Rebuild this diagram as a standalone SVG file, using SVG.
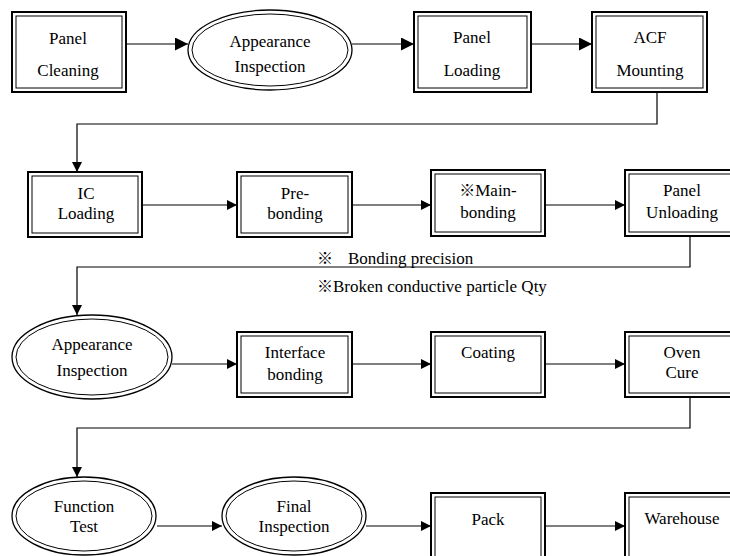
<svg xmlns="http://www.w3.org/2000/svg" width="730" height="556" viewBox="0 0 730 556">
<style>
text{font-family:"Liberation Serif","Times New Roman","DejaVu Serif",serif;font-size:17px;fill:#000;text-anchor:middle}
.k{font-family:"Noto Sans CJK JP",sans-serif;font-size:16px}
.o{fill:#fff;stroke:#000;stroke-width:2}
.i{fill:none;stroke:#000;stroke-width:1}
.eo{fill:#fff;stroke:#000;stroke-width:1.3}
.c{fill:none;stroke:#000;stroke-width:1.2}
.note{text-anchor:start}
</style>
<defs>
<marker id="a" viewBox="0 0 10 10" refX="10" refY="5" markerWidth="10" markerHeight="10" markerUnits="userSpaceOnUse" orient="auto"><path d="M0,0 L10,5 L0,10 z" fill="#000"/></marker>
<marker id="b" viewBox="0 0 10 10" refX="10" refY="5" markerWidth="13" markerHeight="13" markerUnits="userSpaceOnUse" orient="auto"><path d="M0,0 L10,5 L0,10 z" fill="#000"/></marker>
</defs>
<rect width="730" height="556" fill="#fff"/>
<g id="connectors">
<path class="c" d="M126,44 H188" marker-end="url(#b)"/>
<path class="c" d="M352,44 H414" marker-end="url(#b)"/>
<path class="c" d="M531,44 H592" marker-end="url(#b)"/>
<path class="c" d="M657,92 V124 H77 V172" marker-end="url(#a)"/>
<path class="c" d="M142,205 H237" marker-end="url(#a)"/>
<path class="c" d="M352,205 H431" marker-end="url(#a)"/>
<path class="c" d="M545,205 H625" marker-end="url(#a)"/>
<path class="c" d="M690,236 V267 H77 V315" marker-end="url(#a)"/>
<path class="c" d="M172,364 H237" marker-end="url(#a)"/>
<path class="c" d="M352,364 H431" marker-end="url(#a)"/>
<path class="c" d="M545,364 H625" marker-end="url(#a)"/>
<path class="c" d="M690,397 V428 H77 V477" marker-end="url(#a)"/>
<path class="c" d="M157,526 H222" marker-end="url(#a)"/>
<path class="c" d="M366,526 H431" marker-end="url(#a)"/>
<path class="c" d="M545,526 H625" marker-end="url(#a)"/>
</g>
<g id="panel-cleaning"><rect class="o" x="12" y="12" width="114" height="80"/><rect class="i" x="16" y="16" width="106" height="72"/><text x="68" y="44">Panel</text><text x="68" y="76">Cleaning</text></g>
<g id="appearance-inspection-1"><ellipse class="eo" cx="270" cy="50" rx="82" ry="40"/><ellipse class="i" cx="270" cy="50" rx="78" ry="36"/><text x="270" y="47">Appearance</text><text x="270" y="72">Inspection</text></g>
<g id="panel-loading"><rect class="o" x="414" y="12" width="117" height="80"/><rect class="i" x="418" y="16" width="109" height="72"/><text x="472" y="43">Panel</text><text x="472" y="76">Loading</text></g>
<g id="acf-mounting"><rect class="o" x="592" y="12" width="115" height="80"/><rect class="i" x="596" y="16" width="107" height="72"/><text x="650" y="43">ACF</text><text x="650" y="76">Mounting</text></g>
<g id="ic-loading"><rect class="o" x="28" y="172" width="114" height="65"/><rect class="i" x="32" y="176" width="106" height="57"/><text x="86" y="199">IC</text><text x="86" y="219">Loading</text></g>
<g id="pre-bonding"><rect class="o" x="237" y="172" width="115" height="65"/><rect class="i" x="241" y="176" width="107" height="57"/><text x="295" y="199">Pre-</text><text x="295" y="219">bonding</text></g>
<g id="main-bonding"><rect class="o" x="431" y="170" width="114" height="66"/><rect class="i" x="435" y="174" width="106" height="58"/><text x="488" y="196"><tspan class="k">※</tspan>Main-</text><text x="488" y="218">bonding</text></g>
<g id="panel-unloading"><rect class="o" x="625" y="170" width="116" height="66"/><rect class="i" x="629" y="174" width="108" height="58"/><text x="682" y="196">Panel</text><text x="682" y="218">Unloading</text></g>
<g id="notes"><text class="note" x="317" y="264"><tspan class="k">※</tspan><tspan x="348">Bonding precision</tspan></text><text class="note" x="317" y="292"><tspan class="k">※</tspan>Broken conductive particle Qty</text></g>
<g id="appearance-inspection-2"><ellipse class="eo" cx="92" cy="357" rx="80" ry="42"/><ellipse class="i" cx="92" cy="357" rx="76" ry="38"/><text x="92" y="350">Appearance</text><text x="92" y="376">Inspection</text></g>
<g id="interface-bonding"><rect class="o" x="237" y="332" width="115" height="65"/><rect class="i" x="241" y="336" width="107" height="57"/><text x="295" y="358">Interface</text><text x="295" y="380">bonding</text></g>
<g id="coating"><rect class="o" x="431" y="332" width="114" height="65"/><rect class="i" x="435" y="336" width="106" height="57"/><text x="488" y="358">Coating</text></g>
<g id="oven-cure"><rect class="o" x="625" y="332" width="116" height="65"/><rect class="i" x="629" y="336" width="108" height="57"/><text x="682" y="358">Oven</text><text x="682" y="378">Cure</text></g>
<g id="function-test"><ellipse class="eo" cx="84" cy="516" rx="72" ry="39"/><ellipse class="i" cx="84" cy="516" rx="68" ry="35"/><text x="84" y="512">Function</text><text x="84" y="532">Test</text></g>
<g id="final-inspection"><ellipse class="eo" cx="294" cy="516" rx="72" ry="39"/><ellipse class="i" cx="294" cy="516" rx="68" ry="35"/><text x="294" y="512">Final</text><text x="294" y="532">Inspection</text></g>
<g id="pack"><rect class="o" x="431" y="493" width="114" height="80"/><rect class="i" x="435" y="497" width="106" height="72"/><text x="488" y="525">Pack</text></g>
<g id="warehouse"><rect class="o" x="625" y="493" width="116" height="80"/><rect class="i" x="629" y="497" width="108" height="72"/><text x="682" y="524">Warehouse</text></g>
</svg>
